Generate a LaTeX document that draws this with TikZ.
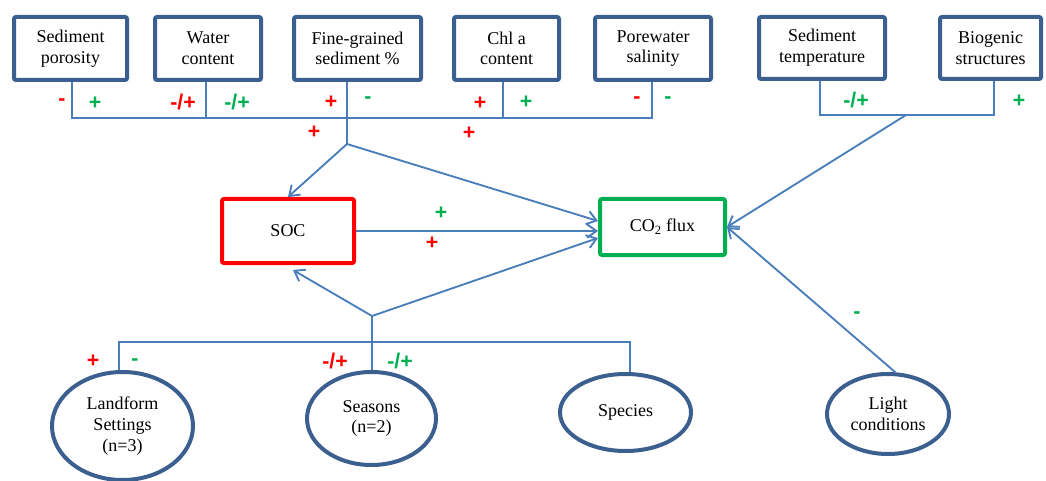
\documentclass[tikz,border=0pt]{standalone}
\usepackage{fontspec}
\setmainfont{Liberation Serif}
\newfontfamily\signfont{Liberation Sans}
\usetikzlibrary{shapes.geometric,arrows.meta,calc}
\definecolor{boxblue}{HTML}{3B5F8E}
\definecolor{lineblue}{HTML}{4A7EBB}
\definecolor{sgnred}{HTML}{FF0000}
\definecolor{sgngreen}{HTML}{00B050}
\begin{document}
\begin{tikzpicture}[x=0.75pt,y=-0.75pt,
  lbl/.style={align=center,inner sep=0pt,font=\fontsize{13.5}{15.5}\selectfont},
  varbox/.style={lbl,draw=boxblue,line width=3pt,rounded corners=1.5pt},
  varell/.style={lbl,ellipse,draw=boxblue,line width=3pt},
  conn/.style={draw=lineblue,line width=1.4pt},
  arr/.style={conn,-{Straight Barb[length=7pt,width=10pt]}},
  sgnr/.style={inner sep=0pt,text=sgnred,font=\signfont\bfseries\fontsize{16}{16}\selectfont},
  sgng/.style={sgnr,text=sgngreen}]
\useasboundingbox (0,0) rectangle (1046,481);
% top boxes
\node[varbox,minimum width=113*0.75pt,minimum height=63*0.75pt] (por) at (70.5,48.5) {Sediment\\porosity};
\node[varbox,minimum width=106*0.75pt,minimum height=63*0.75pt] (wat) at (208,48.5) {Water\\content};
\node[varbox,minimum width=127*0.75pt,minimum height=63*0.75pt] (fine) at (357.5,48.5) {Fine-grained\\sediment \%};
\node[varbox,minimum width=105*0.75pt,minimum height=63*0.75pt] (chl) at (506.5,48.5) {Chl a\\content};
\node[varbox,minimum width=116*0.75pt,minimum height=63*0.75pt] (pore) at (653,48.5) {Porewater\\salinity};
\node[varbox,minimum width=126*0.75pt,minimum height=62*0.75pt] (stemp) at (822,48) {Sediment\\temperature};
\node[varbox,minimum width=101*0.75pt,minimum height=62*0.75pt] (bio) at (990.5,48) {Biogenic\\structures};
% central boxes
\node[lbl,draw=sgnred,line width=3pt,rounded corners=1.5pt,minimum width=132*0.75pt,minimum height=64*0.75pt] (SOC) at (288,231) {SOC};
\node[lbl,draw=sgngreen,line width=3pt,rounded corners=1.5pt,minimum width=125*0.75pt,minimum height=56*0.75pt] (CO2) at (662.5,227) {CO\textsubscript{2} flux};
% ellipses
\node[varell,minimum width=141*0.75pt,minimum height=108*0.75pt] (land) at (122.5,426) {Landform\\Settings\\(n=3)};
\node[varell,minimum width=129*0.75pt,minimum height=93*0.75pt] (seas) at (371.5,418.5) {Seasons\\(n=2)};
\node[varell,minimum width=131*0.75pt,minimum height=77*0.75pt] (spec) at (625.5,412.5) {Species};
\node[varell,minimum width=122*0.75pt,minimum height=80*0.75pt] (light) at (888,414) {Light\\conditions};
% top-left tree
\coordinate (TL) at (72,118);
\coordinate (TR) at (652,118);
\coordinate (wS) at (206,118);
\coordinate (cS) at (503,118);
\coordinate (J1) at (347,144);
\draw[conn] (por.south -| TL) -- (TL) -- (TR) -- (pore.south -| TR);
\draw[conn] (wat.south -| wS) -- (wS);
\draw[conn] (chl.south -| cS) -- (cS);
\draw[conn] (fine.south -| J1) -- (J1);
\draw[arr] (J1) -- (SOC.north);
\draw[arr] (J1) -- ($(CO2.west)+(0,-6)$);
% top-right tree
\coordinate (SL) at (820,115);
\coordinate (SR) at (994,115);
\coordinate (J3) at (906,115);
\draw[conn] (stemp.south -| SL) -- (SL) -- (SR) -- (bio.south -| SR);
\draw[arr] (J3) -- (CO2.east);
% SOC -> CO2
\draw[arr] (SOC.east) -- (SOC.east -| CO2.west);
% bottom tree
\coordinate (BL) at (119,342);
\coordinate (BR) at (630,342);
\coordinate (J2) at (372,316);
\draw[conn] (land.north -| BL) -- (BL) -- (BR) -- (spec.north -| BR);
\draw[conn] (seas.north -| J2) -- (J2);
\draw[arr] (J2) -- ($(SOC.south)+(5,5)$);
\draw[arr] (J2) -- ($(CO2.west)+(0,11)$);
\draw[arr] (light.80) -- (CO2.east);
% signs
\node[sgnr] (s1) at (62,102) {-};
\node[sgng] (s2) at (95,103) {+};
\node[sgnr] (s3) at (183,102) {-/+};
\node[sgng] (s4) at (237,102) {-/+};
\node[sgnr] (s5) at (331,102) {+};
\node[sgng] (s6) at (368,100) {-};
\node[sgnr] (s7) at (480,103) {+};
\node[sgng] (s8) at (526,102) {+};
\node[sgnr] (s9) at (637,100) {-};
\node[sgng] (s10) at (668,100) {-};
\node[sgnr] (s11) at (314,132) {+};
\node[sgnr] (s12) at (469,133) {+};
\node[sgng] (s13) at (856,100) {-/+};
\node[sgng] (s14) at (1019,101) {+};
\node[sgng] (s15) at (441,213) {+};
\node[sgnr] (s16) at (432,243) {+};
\node[sgnr] (s17) at (93,361) {+};
\node[sgng] (s18) at (135,362) {-};
\node[sgnr] (s19) at (335,361) {-/+};
\node[sgng] (s20) at (400,361) {-/+};
\node[sgng] (s21) at (857,315) {-};
\end{tikzpicture}
\end{document}
